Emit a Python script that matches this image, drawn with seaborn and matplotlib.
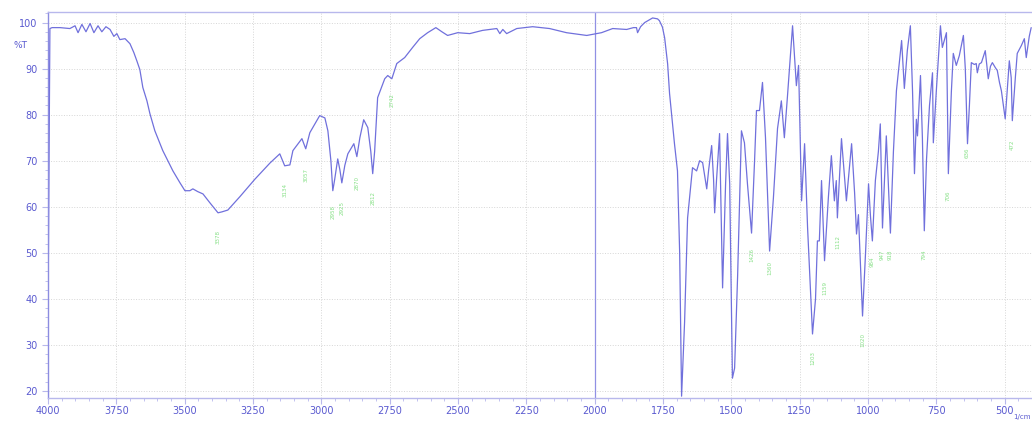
import seaborn as sns
import matplotlib.pyplot as plt
from matplotlib.ticker import MultipleLocator

# IR spectrum (1/cm vs %T)
wavenumber = [
    4000, 3993, 3985, 3956, 3920, 3901, 3890, 3876, 3861, 3846, 3832, 3817,
    3803, 3788, 3773, 3759, 3748, 3737, 3718, 3700, 3686, 3675, 3664, 3653,
    3638, 3627, 3609, 3580, 3543, 3517, 3499, 3481, 3470, 3452, 3433, 3408,
    3378, 3364, 3342, 3298, 3243, 3188, 3152, 3134, 3115, 3104, 3071, 3057,
    3042, 3006, 2987, 2976, 2965, 2958, 2951, 2940, 2932, 2925, 2914, 2903,
    2881, 2870, 2859, 2845, 2830, 2819, 2812, 2805, 2794, 2768, 2757, 2742,
    2724, 2695, 2666, 2640, 2611, 2581, 2559, 2538, 2501, 2457, 2410, 2358,
    2347, 2336, 2322, 2285, 2227, 2165, 2103, 2029, 1975, 1934, 1883, 1858,
    1847, 1843, 1832, 1817, 1788, 1770, 1763, 1752, 1744, 1733, 1726, 1708,
    1697, 1689, 1682, 1671, 1660, 1642, 1627, 1616, 1605, 1598, 1590, 1583,
    1572, 1565, 1561, 1554, 1543, 1532, 1521, 1514, 1506, 1496, 1488, 1477,
    1463, 1452, 1441, 1426, 1415, 1408, 1397, 1386, 1375, 1360, 1346, 1331,
    1317, 1306, 1295, 1276, 1262, 1254, 1243, 1232, 1221, 1203, 1192, 1185,
    1178, 1170, 1159, 1145, 1134, 1123, 1116, 1112, 1097, 1079, 1060, 1049,
    1042, 1035, 1020, 1009, 998, 991, 984, 973, 962, 955, 947, 933,
    918, 907, 896, 877, 867, 856, 845, 837, 830, 823, 819, 808,
    801, 794, 786, 775, 764, 761, 750, 735, 728, 713, 706, 695,
    688, 677, 666, 651, 644, 636, 629, 622, 611, 604, 600, 593,
    585, 571, 560, 552, 545, 534, 527, 519, 512, 498, 490, 483,
    476, 472, 461, 454, 439, 428, 421, 410, 403,
]
transmittance = [
    35.2, 98.7, 98.9, 98.9, 98.7, 99.3, 97.8, 99.6, 98.0, 99.8, 97.8, 99.3,
    98.0, 99.1, 98.5, 97.0, 97.6, 96.3, 96.5, 95.4, 93.5, 91.7, 89.8, 85.9,
    83.0, 80.2, 76.5, 72.2, 67.8, 65.2, 63.5, 63.5, 63.9, 63.3, 62.8, 60.9,
    58.7, 58.9, 59.3, 62.2, 66.0, 69.5, 71.5, 68.9, 69.1, 72.2, 74.8, 72.6,
    76.1, 79.8, 79.3, 76.5, 70.0, 63.5, 66.0, 70.4, 68.0, 65.2, 69.0, 71.5,
    73.7, 70.9, 75.0, 78.9, 77.2, 72.0, 67.2, 72.0, 83.7, 87.8, 88.5, 87.8,
    91.1, 92.4, 94.6, 96.5, 97.8, 98.9, 98.0, 97.2, 97.8, 97.6, 98.3, 98.7,
    97.6, 98.5, 97.6, 98.7, 99.1, 98.7, 97.8, 97.2, 97.8, 98.7, 98.5, 98.9,
    98.9, 97.8, 99.1, 100.0, 101.0, 100.8, 100.4, 99.0, 96.7, 91.0, 84.6, 73.7,
    67.8, 50.0, 18.9, 35.0, 57.6, 68.5, 67.8, 70.0, 69.6, 67.0, 63.9, 68.0,
    73.3, 66.0, 58.7, 66.0, 75.9, 42.4, 65.0, 75.9, 65.0, 22.8, 25.0, 45.0,
    76.5, 73.9, 65.0, 54.3, 70.0, 80.9, 80.9, 87.0, 75.0, 50.4, 62.0, 77.0,
    83.0, 75.0, 83.7, 99.3, 86.3, 90.7, 61.3, 73.7, 55.4, 32.4, 40.0, 52.6,
    52.6, 65.7, 48.3, 62.0, 71.1, 61.3, 65.7, 57.6, 74.8, 61.3, 73.7, 63.0,
    54.1, 58.3, 36.3, 50.0, 65.0, 58.0, 52.6, 65.7, 72.0, 78.0, 55.4, 75.4,
    54.3, 72.0, 85.2, 96.1, 85.7, 94.0, 99.3, 85.0, 67.2, 79.0, 75.4, 88.5,
    75.0, 54.8, 70.2, 82.0, 89.1, 73.9, 85.2, 99.3, 94.6, 97.8, 67.2, 85.0,
    93.3, 90.7, 92.8, 97.2, 90.0, 73.7, 82.0, 91.3, 90.9, 91.1, 89.1, 91.0,
    91.3, 93.9, 87.8, 90.5, 91.3, 90.2, 89.6, 87.0, 85.2, 79.1, 86.0, 91.7,
    88.0, 78.7, 88.0, 93.3, 95.0, 96.5, 92.4, 97.0, 98.9,
]

# green peak-pick labels
peak_wavenumber = [3378, 3134, 3057, 2958, 2925, 2870, 2812, 2742, 1426, 1360,
                   1203, 1159, 1112, 1020, 984, 947, 918, 794, 706, 636, 472]
peak_label_t = [53.4, 63.6, 66.9, 58.9, 59.7, 65.2, 61.9, 83.2, 49.5, 46.7,
                27.2, 42.4, 52.3, 31.2, 48.1, 49.5, 49.5, 49.5, 62.5, 71.7, 73.4]

x_ticks = list(range(4000, 499, -250))
y_ticks = [20, 30, 40, 50, 60, 70, 80, 90, 100]

line_color = "#7070dc"
text_color = "#5a5ad0"
frame_color = "#b8b8ec"

sns.set_theme(style="white")
plt.rcParams["font.family"] = ["DejaVu Sans"]

fig = plt.figure(figsize=(10.32, 4.21), dpi=100)
ax = fig.add_axes([0.0465, 0.0546, 0.9535, 0.917])

sns.lineplot(x=wavenumber, y=transmittance, ax=ax, sort=False, estimator=None,
             color=line_color, linewidth=0.9)

ax.axvline(2000, color="#9090e4", linewidth=0.9, zorder=1)

for wn, t in zip(peak_wavenumber, peak_label_t):
    ax.text(wn, t, f"{wn}", rotation=90, fontsize=4, color="#86e086",
            ha="center", va="center")

ax.set_xlim(4000, 400)
ax.set_ylim(18.5, 102.3)
ax.set_xticks(x_ticks)
ax.set_yticks(y_ticks)
ax.xaxis.set_minor_locator(MultipleLocator(50))
ax.yaxis.set_minor_locator(MultipleLocator(2))
ax.tick_params(axis="both", which="major", labelsize=7, labelcolor=text_color,
               color=frame_color, length=4, width=0.8, direction="out",
               left=True, bottom=True)
ax.tick_params(axis="both", which="minor", color=frame_color, length=2,
               width=0.6, direction="out", left=True, bottom=True)
ax.tick_params(axis="x", pad=2)
ax.grid(True, which="major", linestyle=":", color="#d6d6d6", linewidth=0.7)

for side in ["top", "left", "bottom"]:
    ax.spines[side].set_color(frame_color)
    ax.spines[side].set_linewidth(1.0)
ax.spines["left"].set_color("#8c8ce0")
ax.spines["right"].set_visible(False)

ax.set_xlabel("")
ax.set_ylabel("")
ax.text(-0.028, 95, "%T", transform=ax.get_yaxis_transform(), fontsize=6.5,
        color=text_color, ha="center", va="center")
fig.text(0.999, 0.002, "1/cm", fontsize=5, color=text_color, ha="right",
         va="bottom")

fig.savefig("out.png", dpi=100)
